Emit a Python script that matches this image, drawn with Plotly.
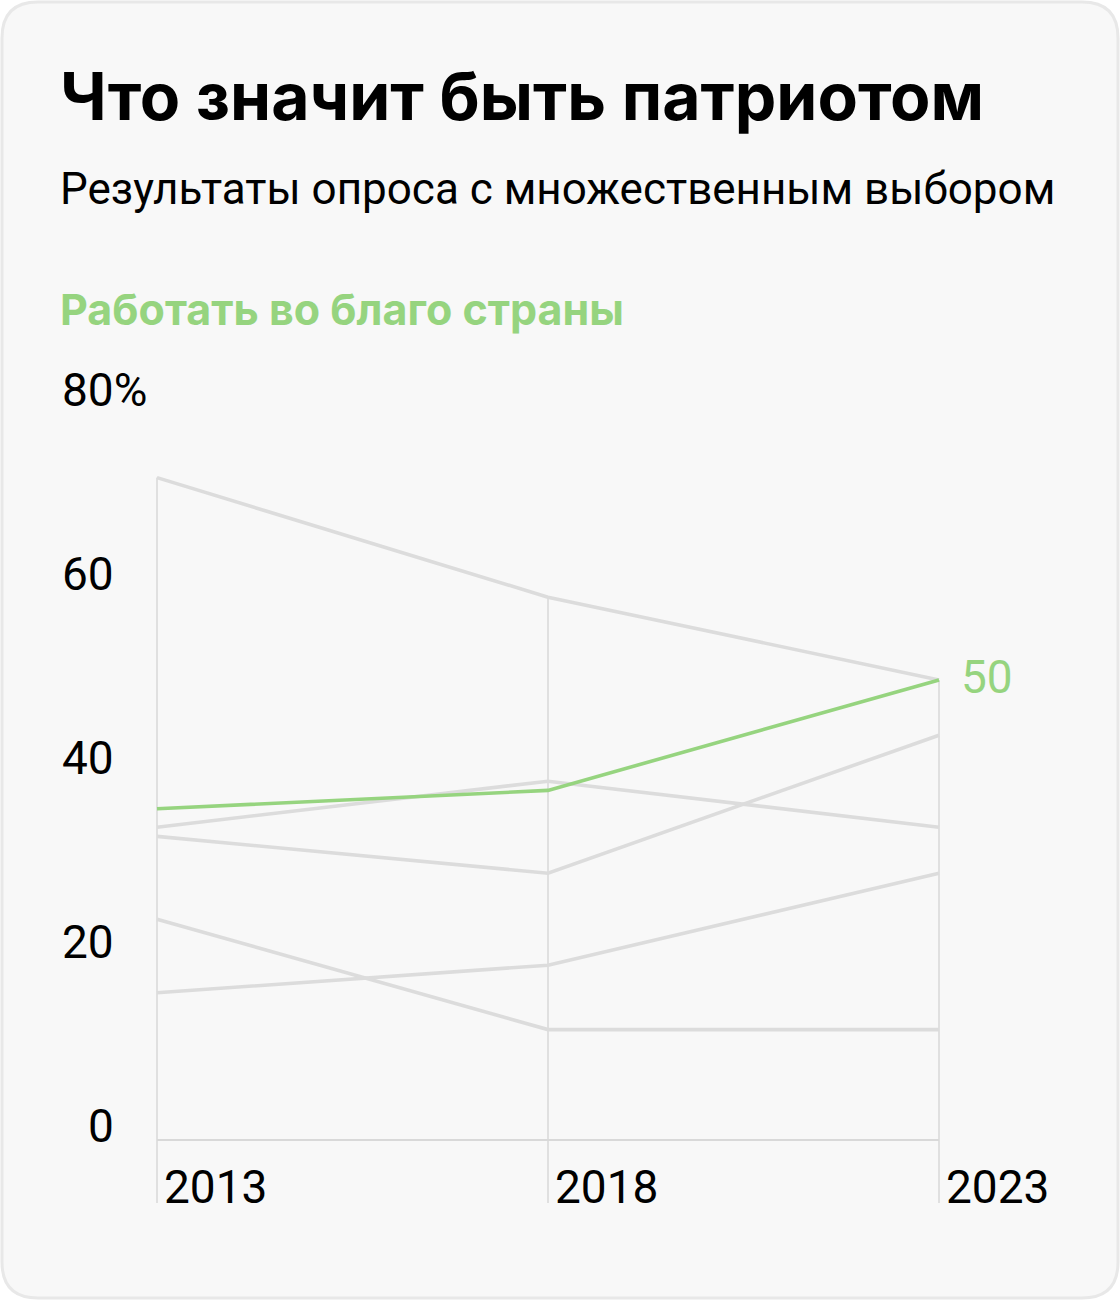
import plotly.graph_objects as go

# ---- data ----
years = [2013, 2018, 2023]
highlight_name = "Работать во благо страны"
highlight_values = [36, 38, 50]
other_a = [72, 59, 50]
other_b = [34, 39, 34]
other_c = [33, 29, 44]
other_d = [24, 12, 12]
other_e = [16, 19, 29]
others = [other_a, other_b, other_c, other_d, other_e]
y_ticks = [0, 20, 40, 60, 80]
y_tick_labels = ["0", "20", "40", "60", "80%"]

title = "Что значит быть патриотом"
subtitle = "Результаты опроса с множественным выбором"

# ---- style ----
W, H = 1120, 1300
X0_PX, X1_PX = 157, 939        # pixel positions of first / last year
Y0_PX, PX_PER_UNIT = 1140, 9.2 # pixel of value 0, pixels per percent
GRID_BOTTOM_PX = 1203
GREEN = "#96d47f"
GRAY = "#dcdcdc"
GRID = "#d9d9d9"
FONT = "Roboto"
TFONT = "Inter"

px_per_year = (X1_PX - X0_PX) / (years[-1] - years[0])
x_range = [years[0] - X0_PX / px_per_year, years[0] + (W - X0_PX) / px_per_year]
y_range = [-(H - Y0_PX) / PX_PER_UNIT, Y0_PX / PX_PER_UNIT]
grid_bottom_val = (Y0_PX - GRID_BOTTOM_PX) / PX_PER_UNIT

fig = go.Figure()

# vertical grid lines from top value of each year down below baseline
all_series = others + [highlight_values]
for i, yr in enumerate(years):
    top = max(s[i] for s in all_series)
    fig.add_trace(go.Scatter(x=[yr, yr], y=[top, grid_bottom_val], mode="lines",
                             line=dict(color=GRID, width=1.5), hoverinfo="skip", showlegend=False))

# baseline
fig.add_trace(go.Scatter(x=[years[0], years[-1]], y=[0, 0], mode="lines",
                         line=dict(color=GRID, width=2), hoverinfo="skip", showlegend=False))

for s in others:
    fig.add_trace(go.Scatter(x=years, y=s, mode="lines",
                             line=dict(color=GRAY, width=3.6), showlegend=False))

fig.add_trace(go.Scatter(x=years, y=highlight_values, mode="lines", name=highlight_name,
                         line=dict(color=GREEN, width=3.6), showlegend=False))

# end label
fig.add_annotation(x=years[-1], y=highlight_values[-1], text=str(highlight_values[-1]),
                   xref="x", yref="y", xanchor="left", yanchor="middle", xshift=20, yshift=3,
                   showarrow=False, font=dict(family=FONT, size=46, color=GREEN))

# y tick labels
for v, lab in zip(y_ticks, y_tick_labels):
    if lab.endswith("%"):
        fig.add_annotation(x=60, y=v, xref="x2", yref="y", text=lab, xanchor="left",
                           yanchor="middle", yshift=14, showarrow=False,
                           font=dict(family=FONT, size=46, color="#000000"))
    else:
        fig.add_annotation(x=116, y=v, xref="x2", yref="y", text=lab, xanchor="right",
                           yanchor="middle", yshift=14, showarrow=False,
                           font=dict(family=FONT, size=46, color="#000000"))

# x tick labels
for yr in years:
    fig.add_annotation(x=yr, y=1187, xref="x", yref="y2", text=str(yr), xanchor="left",
                       yanchor="middle", xshift=5, showarrow=False,
                       font=dict(family=FONT, size=46, color="#000000"))

# titles
fig.add_annotation(x=58, y=96, xref="x2", yref="y2", text="<b>" + title + "</b>", xanchor="left",
                   yanchor="middle", showarrow=False, font=dict(family=TFONT, size=66, color="#000000"))
fig.add_annotation(x=58, y=189, xref="x2", yref="y2", text=subtitle, xanchor="left",
                   yanchor="middle", showarrow=False, font=dict(family=FONT, size=44, color="#000000"))
fig.add_annotation(x=58, y=309, xref="x2", yref="y2", text="<b>" + highlight_name + "</b>", xanchor="left",
                   yanchor="middle", showarrow=False, font=dict(family=TFONT, size=43, color=GREEN))

# card background
r = 36
x0, y0, x1, y1 = 2, 2, W - 2, H - 2
path = (f"M {x0+r},{y0} L {x1-r},{y0} Q {x1},{y0} {x1},{y0+r} L {x1},{y1-r} Q {x1},{y1} {x1-r},{y1} "
        f"L {x0+r},{y1} Q {x0},{y1} {x0},{y1-r} L {x0},{y0+r} Q {x0},{y0} {x0+r},{y0} Z")
fig.add_shape(type="path", path=path, xref="x2", yref="y2", layer="below",
              fillcolor="#f8f8f8", line=dict(color="#e8e8e8", width=3))

fig.update_layout(
    width=W, height=H,
    margin=dict(l=0, r=0, t=0, b=0),
    paper_bgcolor="#ffffff", plot_bgcolor="rgba(0,0,0,0)",
    xaxis=dict(range=x_range, visible=False, fixedrange=True),
    yaxis=dict(range=y_range, visible=False, fixedrange=True),
    xaxis2=dict(range=[0, W], visible=False, overlaying="x", fixedrange=True),
    yaxis2=dict(range=[H, 0], visible=False, overlaying="y", fixedrange=True),
    showlegend=False,
)
# invisible trace to activate the pixel-coordinate axes
fig.add_trace(go.Scatter(x=[0], y=[0], xaxis="x2", yaxis="y2", mode="markers",
                         marker=dict(opacity=0), hoverinfo="skip", showlegend=False))

fig.write_html("out.html", config={"displayModeBar": False},
               post_script="document.body.style.margin='0';")
